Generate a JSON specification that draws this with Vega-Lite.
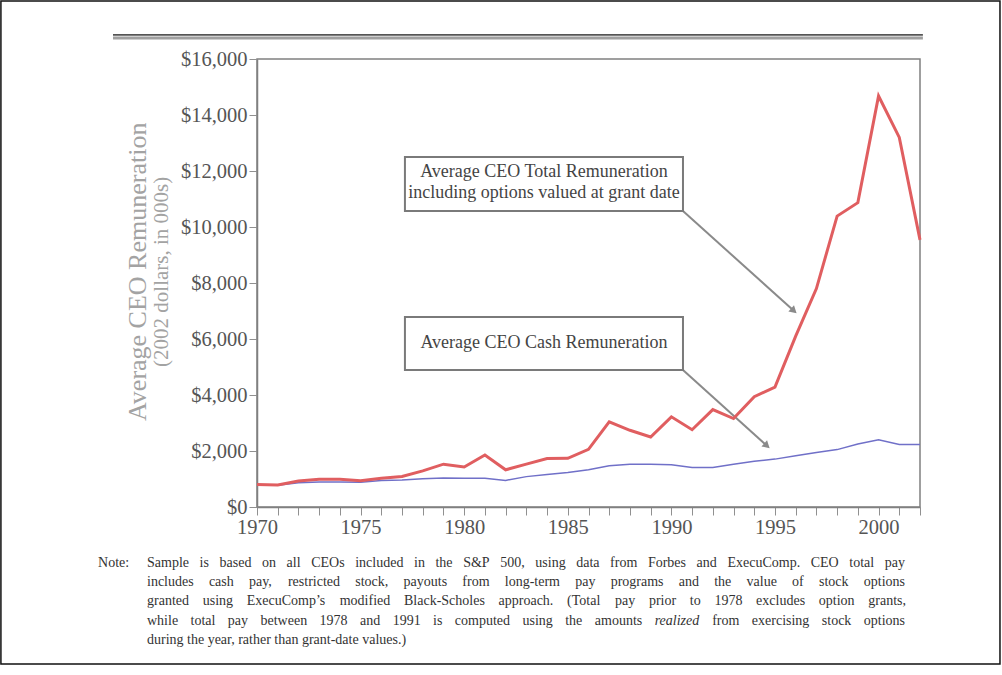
{
  "$schema": "https://vega.github.io/schema/vega-lite/v6.json",
  "width": 663,
  "height": 448,
  "autosize": {"type": "none"},
  "padding": {"left": 257, "top": 59, "right": 82, "bottom": 168},
  "background": "white",
  "config": {
    "view": {"stroke": "#808080", "strokeWidth": 1.5},
    "font": "Liberation Serif"
  },
  "encoding": {
    "x": {
      "field": "year", "type": "quantitative",
      "scale": {"domain": [1970, 2002], "nice": false, "zero": false},
      "axis": {
        "title": null, "grid": false,
        "values": [1970,1971,1972,1973,1974,1975,1976,1977,1978,1979,1980,1981,1982,1983,1984,1985,1986,1987,1988,1989,1990,1991,1992,1993,1994,1995,1996,1997,1998,1999,2000,2001,2002],
        "format": "d",
        "labelExpr": "datum.value % 5 === 0 ? datum.label : ''",
        "domainColor": "#808080", "domainWidth": 1.5,
        "tickColor": "#909090", "tickSize": 8, "tickWidth": 1,
        "labelFont": "Liberation Serif", "labelFontSize": 20.5, "labelColor": "#555555",
        "labelPadding": 2, "labelFlush": false, "labelOverlap": false
      }
    },
    "y": {
      "field": "value", "type": "quantitative",
      "scale": {"domain": [0, 16000], "nice": false, "zero": false},
      "axis": {
        "title": null, "grid": false,
        "values": [0,2000,4000,6000,8000,10000,12000,14000,16000],
        "format": "$,d",
        "domainColor": "#808080", "domainWidth": 1.5,
        "tickColor": "#909090", "tickSize": 8, "tickWidth": 1,
        "labelFont": "Liberation Serif", "labelFontSize": 20.5, "labelColor": "#555555",
        "labelPadding": 2, "labelFlush": false, "labelOverlap": false
      }
    }
  },
  "layer": [
    {
      "data": {"values": [{"year": 1957.64, "year2": 2005.86, "value": 18071, "value2": -5607}]},
      "mark": {"type": "rect", "fill": "white", "fillOpacity": 0, "stroke": "#111111", "strokeWidth": 1.5},
      "encoding": {"x2": {"field": "year2"}, "y2": {"field": "value2"}}
    },
    {
      "data": {"values": [{"year": 1963.05, "year2": 2002.14, "value": 16750}]},
      "mark": {"type": "rule", "color": "#a0a0a0", "strokeWidth": 3},
      "encoding": {"x2": {"field": "year2"}}
    },
    {
      "data": {"values": [{"year": 1963.05, "year2": 2002.14, "value": 16860}]},
      "mark": {"type": "rule", "color": "#555555", "strokeWidth": 1.8},
      "encoding": {"x2": {"field": "year2"}}
    },
    {
      "data": {"values": [
        {"year": 1990.56, "year2": 1995.87, "value": 10571, "value2": 7036},
        {"year": 1990.56, "year2": 1994.57, "value": 4893, "value2": 2214}
      ]},
      "mark": {"type": "rule", "color": "#8a8a8a", "strokeWidth": 2},
      "encoding": {"x2": {"field": "year2"}, "y2": {"field": "value2"}}
    },
    {
      "data": {"values": [
        {"year": 1995.87, "value": 7036},
        {"year": 1994.57, "value": 2214}
      ]},
      "mark": {"type": "point", "shape": "triangle", "angle": 132, "size": 70, "filled": true, "color": "#8a8a8a", "opacity": 1},
      "encoding": {}
    },
    {
      "data": {"values": [
        {"year": 1977.14, "year2": 1990.56, "value": 12500, "value2": 10571},
        {"year": 1977.14, "year2": 1990.56, "value": 6786, "value2": 4893}
      ]},
      "mark": {"type": "rect", "fill": "white", "stroke": "#7a7a7a", "strokeWidth": 2},
      "encoding": {"x2": {"field": "year2"}, "y2": {"field": "value2"}}
    },
    {
      "data": {"values": [
        {"year": 1983.85, "value": 11964, "text": "Average CEO Total Remuneration"},
        {"year": 1983.85, "value": 11214, "text": "including options valued at grant date"},
        {"year": 1983.85, "value": 5857, "text": "Average CEO Cash Remuneration"}
      ]},
      "mark": {"type": "text", "align": "center", "baseline": "middle", "font": "Liberation Serif", "fontSize": 18, "color": "#444444"},
      "encoding": {"text": {"field": "text"}}
    },
    {
      "data": {"values": [
        {"year": 1970, "series": "Cash", "value": 780},
        {"year": 1971, "series": "Cash", "value": 780},
        {"year": 1972, "series": "Cash", "value": 870},
        {"year": 1973, "series": "Cash", "value": 890},
        {"year": 1974, "series": "Cash", "value": 890},
        {"year": 1975, "series": "Cash", "value": 880},
        {"year": 1976, "series": "Cash", "value": 950},
        {"year": 1977, "series": "Cash", "value": 965},
        {"year": 1978, "series": "Cash", "value": 1010},
        {"year": 1979, "series": "Cash", "value": 1035},
        {"year": 1980, "series": "Cash", "value": 1025},
        {"year": 1981, "series": "Cash", "value": 1025},
        {"year": 1982, "series": "Cash", "value": 950},
        {"year": 1983, "series": "Cash", "value": 1085},
        {"year": 1984, "series": "Cash", "value": 1160},
        {"year": 1985, "series": "Cash", "value": 1230},
        {"year": 1986, "series": "Cash", "value": 1330},
        {"year": 1987, "series": "Cash", "value": 1470},
        {"year": 1988, "series": "Cash", "value": 1530},
        {"year": 1989, "series": "Cash", "value": 1530},
        {"year": 1990, "series": "Cash", "value": 1510},
        {"year": 1991, "series": "Cash", "value": 1410},
        {"year": 1992, "series": "Cash", "value": 1410},
        {"year": 1993, "series": "Cash", "value": 1530},
        {"year": 1994, "series": "Cash", "value": 1630},
        {"year": 1995, "series": "Cash", "value": 1710},
        {"year": 1996, "series": "Cash", "value": 1830},
        {"year": 1997, "series": "Cash", "value": 1950},
        {"year": 1998, "series": "Cash", "value": 2050},
        {"year": 1999, "series": "Cash", "value": 2250},
        {"year": 2000, "series": "Cash", "value": 2400},
        {"year": 2001, "series": "Cash", "value": 2230},
        {"year": 2002, "series": "Cash", "value": 2230}
      ]},
      "mark": {"type": "line", "color": "#7070c8", "strokeWidth": 1.5},
      "encoding": {}
    },
    {
      "data": {"values": [
        {"year": 1970, "series": "Total", "value": 800},
        {"year": 1971, "series": "Total", "value": 790},
        {"year": 1972, "series": "Total", "value": 930},
        {"year": 1973, "series": "Total", "value": 990},
        {"year": 1974, "series": "Total", "value": 990},
        {"year": 1975, "series": "Total", "value": 940},
        {"year": 1976, "series": "Total", "value": 1030},
        {"year": 1977, "series": "Total", "value": 1090},
        {"year": 1978, "series": "Total", "value": 1290},
        {"year": 1979, "series": "Total", "value": 1530},
        {"year": 1980, "series": "Total", "value": 1430},
        {"year": 1981, "series": "Total", "value": 1860},
        {"year": 1982, "series": "Total", "value": 1330},
        {"year": 1983, "series": "Total", "value": 1530},
        {"year": 1984, "series": "Total", "value": 1730},
        {"year": 1985, "series": "Total", "value": 1740},
        {"year": 1986, "series": "Total", "value": 2060},
        {"year": 1987, "series": "Total", "value": 3040},
        {"year": 1988, "series": "Total", "value": 2740},
        {"year": 1989, "series": "Total", "value": 2500},
        {"year": 1990, "series": "Total", "value": 3220},
        {"year": 1991, "series": "Total", "value": 2760},
        {"year": 1992, "series": "Total", "value": 3480},
        {"year": 1993, "series": "Total", "value": 3160},
        {"year": 1994, "series": "Total", "value": 3940},
        {"year": 1995, "series": "Total", "value": 4280},
        {"year": 1996, "series": "Total", "value": 6100},
        {"year": 1997, "series": "Total", "value": 7800},
        {"year": 1998, "series": "Total", "value": 10390},
        {"year": 1999, "series": "Total", "value": 10870},
        {"year": 2000, "series": "Total", "value": 14680},
        {"year": 2001, "series": "Total", "value": 13200},
        {"year": 2002, "series": "Total", "value": 9540}
      ]},
      "mark": {"type": "line", "color": "#e05e60", "strokeWidth": 3},
      "encoding": {}
    },
    {
      "data": {"values": [{"year": 1964.26, "value": 8400, "text": "Average CEO Remuneration"}]},
      "mark": {"type": "text", "angle": 270, "align": "center", "baseline": "middle", "font": "Liberation Serif", "fontSize": 26, "color": "#a3a3a3"},
      "encoding": {"text": {"field": "text"}}
    },
    {
      "data": {"values": [{"year": 1965.41, "value": 8400, "text": "(2002 dollars, in 000s)"}]},
      "mark": {"type": "text", "angle": 270, "align": "center", "baseline": "middle", "font": "Liberation Serif", "fontSize": 21, "color": "#a3a3a3"},
      "encoding": {"text": {"field": "text"}}
    },
    {
      "data": {"values": [
        {"year": 1962.33, "value": -2000, "text": "Note:"},
        {"year": 1964.691, "value": -2000, "text": "Sample"},
        {"year": 1967.229, "value": -2000, "text": "is"},
        {"year": 1968.191, "value": -2000, "text": "based"},
        {"year": 1970.240, "value": -2000, "text": "on"},
        {"year": 1971.427, "value": -2000, "text": "all"},
        {"year": 1972.614, "value": -2000, "text": "CEOs"},
        {"year": 1974.739, "value": -2000, "text": "included"},
        {"year": 1977.577, "value": -2000, "text": "in"},
        {"year": 1978.613, "value": -2000, "text": "the"},
        {"year": 1979.950, "value": -2000, "text": "S&P"},
        {"year": 1981.738, "value": -2000, "text": "500,"},
        {"year": 1983.432, "value": -2000, "text": "using"},
        {"year": 1985.407, "value": -2000, "text": "data"},
        {"year": 1987.043, "value": -2000, "text": "from"},
        {"year": 1988.868, "value": -2000, "text": "Forbes"},
        {"year": 1991.218, "value": -2000, "text": "and"},
        {"year": 1992.705, "value": -2000, "text": "ExecuComp."},
        {"year": 1996.725, "value": -2000, "text": "CEO"},
        {"year": 1998.588, "value": -2000, "text": "total"},
        {"year": 2000.300, "value": -2000, "text": "pay"},
        {"year": 1964.691, "value": -2679, "text": "includes"},
        {"year": 1967.678, "value": -2679, "text": "cash"},
        {"year": 1969.614, "value": -2679, "text": "pay,"},
        {"year": 1971.493, "value": -2679, "text": "restricted"},
        {"year": 1974.743, "value": -2679, "text": "stock,"},
        {"year": 1977.073, "value": -2679, "text": "payouts"},
        {"year": 1979.910, "value": -2679, "text": "from"},
        {"year": 1981.959, "value": -2679, "text": "long-term"},
        {"year": 1985.358, "value": -2679, "text": "pay"},
        {"year": 1987.069, "value": -2679, "text": "programs"},
        {"year": 1990.356, "value": -2679, "text": "and"},
        {"year": 1992.067, "value": -2679, "text": "the"},
        {"year": 1993.628, "value": -2679, "text": "value"},
        {"year": 1995.826, "value": -2679, "text": "of"},
        {"year": 1997.124, "value": -2679, "text": "stock"},
        {"year": 1999.286, "value": -2679, "text": "options"},
        {"year": 1964.691, "value": -3357, "text": "granted"},
        {"year": 1967.379, "value": -3357, "text": "using"},
        {"year": 1969.504, "value": -3357, "text": "ExecuComp’s"},
        {"year": 1973.993, "value": -3357, "text": "modified"},
        {"year": 1977.095, "value": -3357, "text": "Black-Scholes"},
        {"year": 1981.659, "value": -3357, "text": "approach."},
        {"year": 1984.966, "value": -3357, "text": "(Total"},
        {"year": 1987.279, "value": -3357, "text": "pay"},
        {"year": 1988.915, "value": -3357, "text": "prior"},
        {"year": 1990.890, "value": -3357, "text": "to"},
        {"year": 1992.077, "value": -3357, "text": "1978"},
        {"year": 1994.090, "value": -3357, "text": "excludes"},
        {"year": 1997.115, "value": -3357, "text": "option"},
        {"year": 1999.503, "value": -3357, "text": "grants,"},
        {"year": 1964.691, "value": -4071, "text": "while"},
        {"year": 1966.792, "value": -4071, "text": "total"},
        {"year": 1968.593, "value": -4071, "text": "pay"},
        {"year": 1970.169, "value": -4071, "text": "between"},
        {"year": 1973.020, "value": -4071, "text": "1978"},
        {"year": 1974.971, "value": -4071, "text": "and"},
        {"year": 1976.547, "value": -4071, "text": "1991"},
        {"year": 1978.498, "value": -4071, "text": "is"},
        {"year": 1979.549, "value": -4071, "text": "computed"},
        {"year": 1982.813, "value": -4071, "text": "using"},
        {"year": 1984.877, "value": -4071, "text": "the"},
        {"year": 1986.303, "value": -4071, "text": "amounts"},
        {"year": 1991.969, "value": -4071, "text": "from"},
        {"year": 1993.883, "value": -4071, "text": "exercising"},
        {"year": 1997.260, "value": -4071, "text": "stock"},
        {"year": 1999.286, "value": -4071, "text": "options"},
        {"year": 1964.691, "value": -4750, "text": "during the year, rather than grant-date values.)"}
      ]},
      "mark": {"type": "text", "align": "left", "baseline": "middle", "font": "Liberation Serif", "fontSize": 14, "color": "#333333"},
      "encoding": {"text": {"field": "text"}}
    },
    {
      "data": {"values": [{"year": 1989.193, "value": -4071, "text": "realized"}]},
      "mark": {"type": "text", "align": "left", "baseline": "middle", "font": "Liberation Serif", "fontSize": 14, "fontStyle": "italic", "color": "#333333"},
      "encoding": {"text": {"field": "text"}}
    }
  ]
}
